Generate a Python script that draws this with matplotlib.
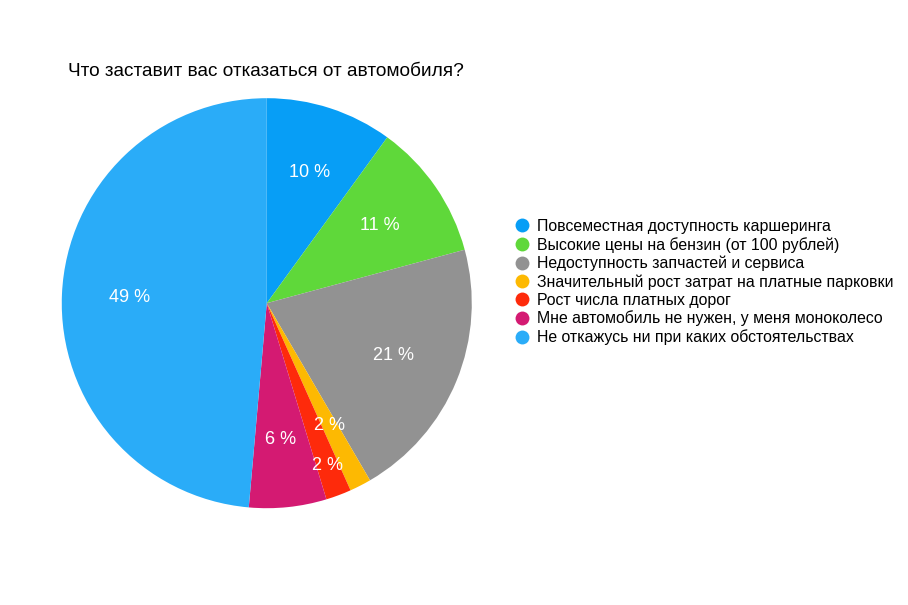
import matplotlib
matplotlib.use('Agg')
import matplotlib.pyplot as plt
from matplotlib.lines import Line2D

plt.rcParams['font.family'] = ['Liberation Sans', 'DejaVu Sans']

TITLE = "Что заставит вас отказаться от автомобиля?"

categories = [
    "Повсеместная доступность каршеринга",
    "Высокие цены на бензин (от 100 рублей)",
    "Недоступность запчастей и сервиса",
    "Значительный рост затрат на платные парковки",
    "Рост числа платных дорог",
    "Мне автомобиль не нужен, у меня моноколесо",
    "Не откажусь ни при каких обстоятельствах",
]
shares = [10.0, 10.8, 20.8, 1.7, 2.0, 6.1, 48.6]
colors = ["#079ef6", "#5fd83a", "#929292", "#fdb902", "#fe2a0b", "#d41a72", "#2aacf8"]

fig = plt.figure(figsize=(9.08, 6.05), dpi=100)
ax = fig.add_axes([0.068, 0.160, 0.4516, 0.6777])

wedges, texts, autotexts = ax.pie(
    shares, colors=colors, startangle=90, counterclock=False,
    autopct='%.0f %%', pctdistance=0.67,
    wedgeprops={'linewidth': 0},
    textprops={'color': 'white', 'fontsize': 13},
)
# push the small red label outward so it does not collide
x, y = autotexts[4].get_position()
autotexts[4].set_position((x * 1.26, y * 1.26))

ax.set_xlim(-1, 1)
ax.set_ylim(-1, 1)
ax.set_aspect('equal')
ax.axis('off')

fig.text(68 / 908, 1 - 71 / 605, TITLE, fontsize=13.7, va='center', ha='left')

handles = [Line2D([], [], marker='o', linestyle='', markersize=10,
                  markerfacecolor=c, markeredgewidth=0) for c in colors]
fig.legend(handles, categories, loc='center left',
           bbox_to_anchor=(507 / 908, 1 - 282 / 605), frameon=False,
           fontsize=11.4, handletextpad=0.4, labelspacing=0.19,
           handlelength=1.1, borderaxespad=0)

fig.savefig('out.png', dpi=100)
